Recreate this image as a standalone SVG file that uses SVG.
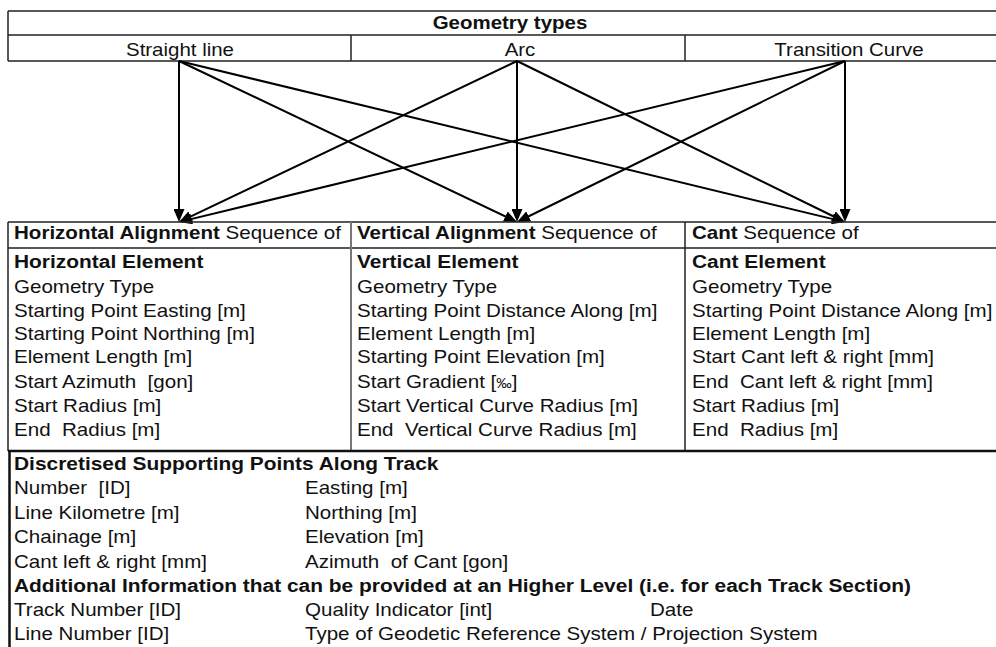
<svg xmlns="http://www.w3.org/2000/svg" width="996" height="647" viewBox="0 0 996 647">
<style>
text{font-family:"Liberation Sans",Arial,sans-serif;font-size:18.6px;fill:#111;white-space:pre}
.b{font-weight:bold}
.l{transform-box:fill-box;transform-origin:0% 50%;transform:scaleX(1.105)}
.l.b{transform:scaleX(1.125)}
.c{text-anchor:middle;transform-box:fill-box;transform-origin:50% 50%;transform:scaleX(1.1)}
.ln{stroke:#222;stroke-width:1.5;fill:none}
.gl{stroke:#777;stroke-width:2;fill:none}
.ar{stroke:#000;stroke-width:2;fill:none;marker-end:url(#ah)}
</style>
<defs>
<marker id="ah" markerUnits="userSpaceOnUse" markerWidth="13" markerHeight="11" viewBox="0 0 13 11" refX="5" refY="5.5" orient="auto">
<path d="M0,0 L13,5.5 L0,11 z" fill="#000"/>
</marker>
</defs>
<rect width="996" height="647" fill="#fff"/>

<g id="geometry-types">
<path class="ln" d="M8,11 H1012 M8,35 H1012 M8,61 H1012 M8,11 V61"/>
<path class="ln" d="M351,35 V61"/>
<path class="ln" d="M685,35 V61"/>
<text class="c b" x="510" y="29">Geometry types</text>
</g>
<g id="straight-line"><text class="c" x="180" y="56">Straight line</text></g>
<g id="arc"><text class="c" x="520" y="56">Arc</text></g>
<g id="transition-curve"><text class="c" x="849" y="56">Transition Curve</text></g>

<g id="connectors">
<line class="ar" x1="179" y1="61" x2="179" y2="214"/>
<line class="ar" x1="179" y1="61" x2="509.8" y2="218.6"/>
<line class="ar" x1="179" y1="61" x2="837.2" y2="220.1"/>
<line class="ar" x1="517" y1="61" x2="186.2" y2="218.6"/>
<line class="ar" x1="517" y1="61" x2="517" y2="214"/>
<line class="ar" x1="517" y1="61" x2="837.8" y2="218.5"/>
<line class="ar" x1="845" y1="61" x2="186.8" y2="220.1"/>
<line class="ar" x1="845" y1="61" x2="524.2" y2="218.5"/>
<line class="ar" x1="845" y1="61" x2="845" y2="214"/>
</g>

<g id="alignment-table">
<path class="ln" d="M8,222 H1012 M8,248 H1012 M8,222 V451"/>
<path class="gl" d="M351,222 V451"/>
<path class="ln" d="M685,222 V451"/>
</g>

<g id="horizontal-alignment">
<text class="l" x="14" y="239"><tspan class="b">Horizontal Alignment</tspan> Sequence of</text>
<text class="l b" x="14" y="268">Horizontal Element</text>
<text class="l" x="14" y="293">Geometry Type</text>
<text class="l" x="14" y="316.7">Starting Point Easting [m]</text>
<text class="l" x="14" y="340">Starting Point Northing [m]</text>
<text class="l" x="14" y="363.5">Element Length [m]</text>
<text class="l" x="14" y="387.7">Start Azimuth  [gon]</text>
<text class="l" x="14" y="411.7">Start Radius [m]</text>
<text class="l" x="14" y="436">End  Radius [m]</text>
</g>

<g id="vertical-alignment">
<text class="l" x="357" y="239"><tspan class="b">Vertical Alignment</tspan> Sequence of</text>
<text class="l b" x="357" y="268">Vertical Element</text>
<text class="l" x="357" y="293">Geometry Type</text>
<text class="l" x="357" y="316.7">Starting Point Distance Along [m]</text>
<text class="l" x="357" y="340">Element Length [m]</text>
<text class="l" x="357" y="363.5">Starting Point Elevation [m]</text>
<text class="l" x="357" y="387.7">Start Gradient [<tspan style="font-size:14px">‰</tspan>]</text>
<text class="l" x="357" y="411.7">Start Vertical Curve Radius [m]</text>
<text class="l" x="357" y="436">End  Vertical Curve Radius [m]</text>
</g>

<g id="cant">
<text class="l" x="692" y="239"><tspan class="b">Cant</tspan> Sequence of</text>
<text class="l b" x="692" y="268">Cant Element</text>
<text class="l" x="692" y="293">Geometry Type</text>
<text class="l" x="692" y="316.7">Starting Point Distance Along [m]</text>
<text class="l" x="692" y="340">Element Length [m]</text>
<text class="l" x="692" y="363.5">Start Cant left &amp; right [mm]</text>
<text class="l" x="692" y="387.7">End  Cant left &amp; right [mm]</text>
<text class="l" x="692" y="411.7">Start Radius [m]</text>
<text class="l" x="692" y="436">End  Radius [m]</text>
</g>

<g id="supporting-points">
<path d="M8,451 H1012 M9.5,451 V660" stroke="#111" stroke-width="2.5" fill="none"/>
<text class="l b" x="14" y="470">Discretised Supporting Points Along Track</text>
<text class="l" x="14" y="494">Number  [ID]</text>
<text class="l" x="305" y="494">Easting [m]</text>
<text class="l" x="14" y="518.7">Line Kilometre [m]</text>
<text class="l" x="305" y="518.7">Northing [m]</text>
<text class="l" x="14" y="543">Chainage [m]</text>
<text class="l" x="305" y="543">Elevation [m]</text>
<text class="l" x="14" y="567.7">Cant left &amp; right [mm]</text>
<text class="l" x="305" y="567.7">Azimuth  of Cant [gon]</text>
</g>

<g id="additional-information">
<text class="l b" x="14" y="591.7">Additional Information that can be provided at an Higher Level (i.e. for each Track Section)</text>
<text class="l" x="14" y="616">Track Number [ID]</text>
<text class="l" x="305" y="616">Quality Indicator [int]</text>
<text class="l" x="650" y="616">Date</text>
<text class="l" x="14" y="640">Line Number [ID]</text>
<text class="l" x="305" y="640">Type of Geodetic Reference System / Projection System</text>
</g>
</svg>
